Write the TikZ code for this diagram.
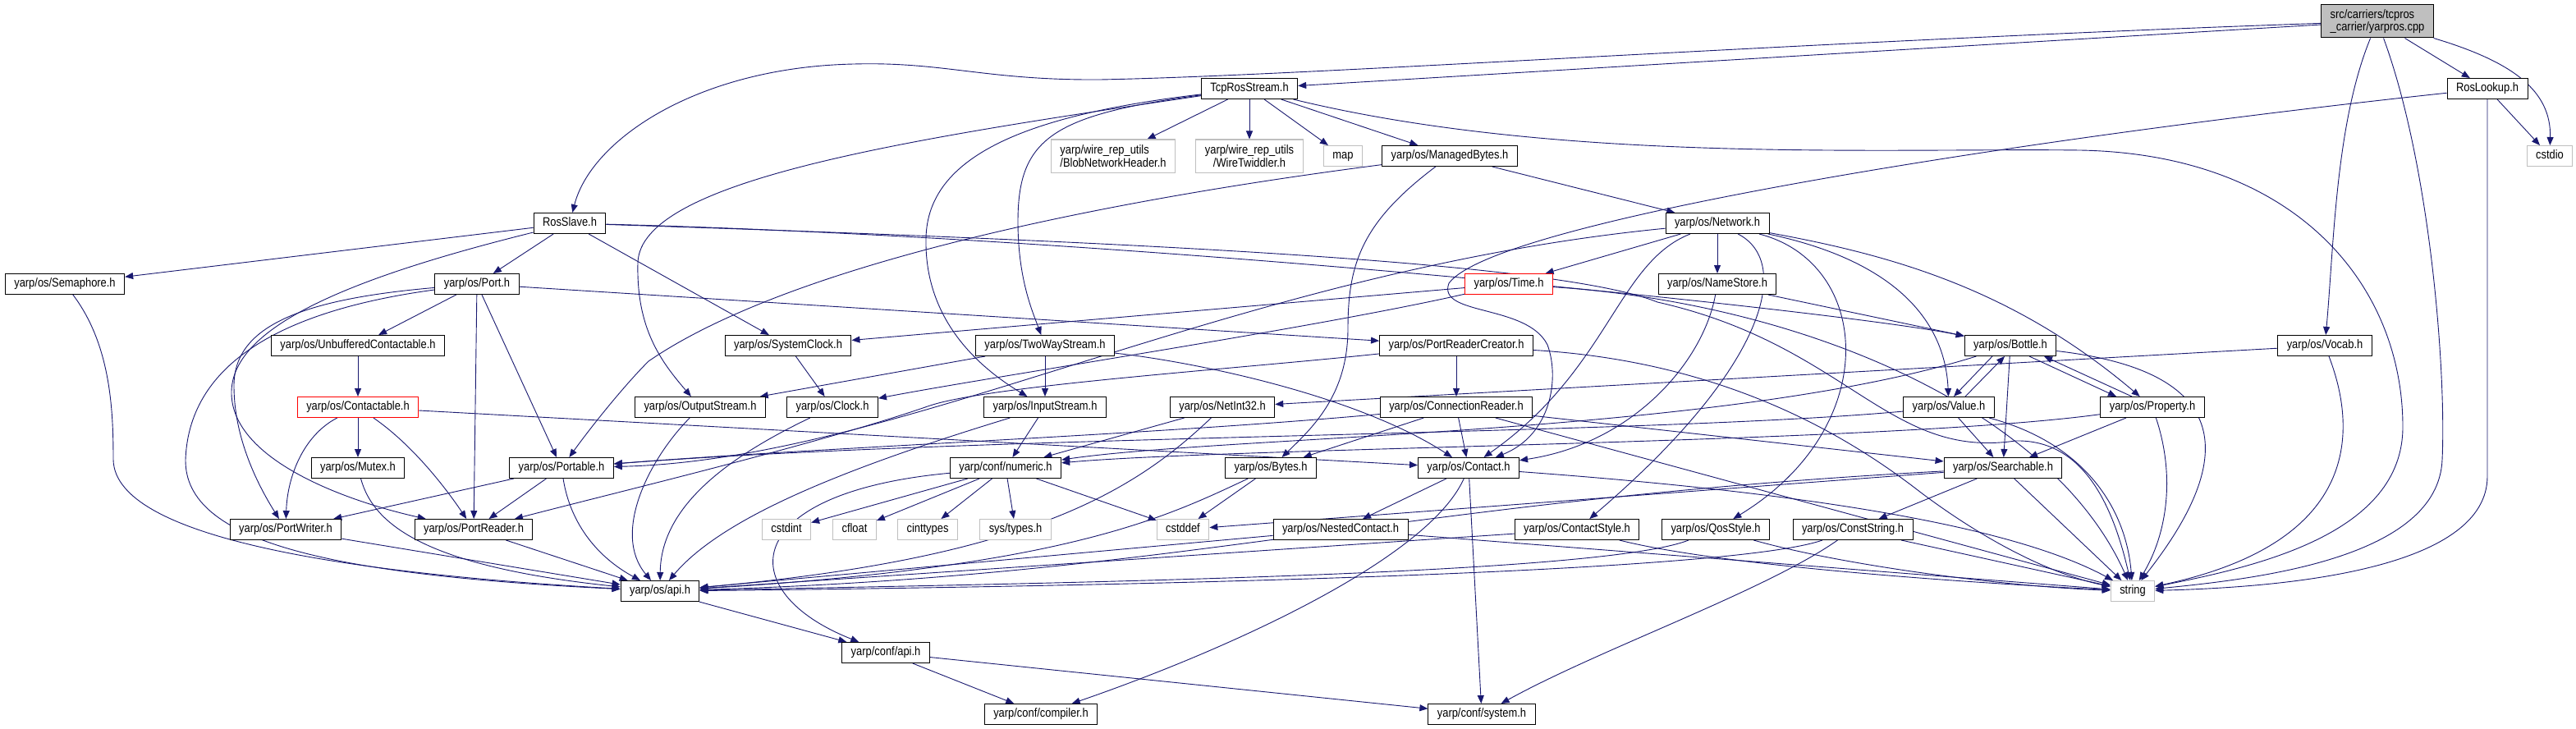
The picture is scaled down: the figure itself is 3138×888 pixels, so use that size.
\documentclass[tikz,border=0pt]{standalone}
\usepackage{fontspec}
\setmainfont{Liberation Sans}[FakeStretch=0.86]
\usetikzlibrary{arrows.meta, backgrounds}
\definecolor{incblue}{RGB}{25,25,112}
\definecolor{sysgray}{RGB}{191,191,191}

\begin{document}
\begin{tikzpicture}[x=1pt, y=-1pt,
    hbox/.style={rectangle, draw=black, fill=white, line width=1pt, inner xsep=11pt, inner ysep=0pt, font=\fontsize{15}{15.3}\selectfont},
    hdr/.style={hbox, minimum height=25pt, text height=11pt, text depth=3.5pt},
    sys/.style={hdr, draw=sysgray},
    trunc/.style={hdr, draw=red},
    inc/.style={draw=incblue, line width=0.9pt, -{Triangle[length=10pt, width=8pt]}}]
    \useasboundingbox (0,0) rectangle (3138,888);
    % top rows
    \node [hbox, fill=sysgray, minimum height=40pt, align=left] (root) at (2896,26) {src/carriers/tcpros\\\_carrier/yarpros.cpp};
    \node [hdr] (tcp) at (1522,108) {TcpRosStream.h};
    \node [hdr] (lookup) at (3030,108) {RosLookup.h};
    \node [hbox, draw=sysgray, minimum height=40pt, align=left] (blob) at (1356,190) {yarp/wire\_rep\_utils\\/BlobNetworkHeader.h};
    \node [hbox, draw=sysgray, minimum height=40pt, align=center] (twiddler) at (1522,190) {yarp/wire\_rep\_utils\\/WireTwiddler.h};
    \node [sys] (map) at (1636,190) {map};
    \node [hdr] (managed) at (1766,190) {yarp/os/ManagedBytes.h};
    \node [sys] (cstdio) at (3106,190) {cstdio};
    \node [hdr] (slave) at (694,272) {RosSlave.h};
    \node [hdr] (network) at (2092,272) {yarp/os/Network.h};
    \node [hdr] (sema) at (79,346) {yarp/os/Semaphore.h};
    \node [hdr] (port) at (581,346) {yarp/os/Port.h};
    \node [trunc] (time) at (1838,346) {yarp/os/Time.h};
    \node [hdr] (namestore) at (2092,346) {yarp/os/NameStore.h};
    % middle rows
    \node [hdr] (unbuf) at (436,421) {yarp/os/UnbufferedContactable.h};
    \node [hdr] (sysclock) at (960,421) {yarp/os/SystemClock.h};
    \node [hdr] (twoway) at (1273,421) {yarp/os/TwoWayStream.h};
    \node [hdr] (prc) at (1774,421) {yarp/os/PortReaderCreator.h};
    \node [hdr] (bottle) at (2449,421) {yarp/os/Bottle.h};
    \node [hdr] (vocab) at (2832,421) {yarp/os/Vocab.h};
    \node [trunc] (contactable) at (436,496) {yarp/os/Contactable.h};
    \node [hdr] (outstream) at (853,496) {yarp/os/OutputStream.h};
    \node [hdr] (clock) at (1014,496) {yarp/os/Clock.h};
    \node [hdr] (instream) at (1273,496) {yarp/os/InputStream.h};
    \node [hdr] (netint) at (1489,496) {yarp/os/NetInt32.h};
    \node [hdr] (connreader) at (1774,496) {yarp/os/ConnectionReader.h};
    \node [hdr] (value) at (2374,496) {yarp/os/Value.h};
    \node [hdr] (property) at (2622,496) {yarp/os/Property.h};
    \node [hdr] (mutex) at (436,570) {yarp/os/Mutex.h};
    \node [hdr] (portable) at (684,570) {yarp/os/Portable.h};
    \node [hdr] (numeric) at (1225,570) {yarp/conf/numeric.h};
    \node [hdr] (bytes) at (1548,570) {yarp/os/Bytes.h};
    \node [hdr] (contact) at (1789,570) {yarp/os/Contact.h};
    \node [hdr] (searchable) at (2440,570) {yarp/os/Searchable.h};
    % lower rows
    \node [hdr] (pwriter) at (348,645) {yarp/os/PortWriter.h};
    \node [hdr] (preader) at (577,645) {yarp/os/PortReader.h};
    \node [sys] (cstdint) at (958,645) {cstdint};
    \node [sys] (cfloat) at (1041,645) {cfloat};
    \node [sys] (cinttypes) at (1130,645) {cinttypes};
    \node [sys] (systypes) at (1237,645) {sys/types.h};
    \node [sys] (cstddef) at (1441,645) {cstddef};
    \node [hdr] (nested) at (1633,645) {yarp/os/NestedContact.h};
    \node [hdr] (cstyle) at (1921,645) {yarp/os/ContactStyle.h};
    \node [hdr] (qos) at (2090,645) {yarp/os/QosStyle.h};
    \node [hdr] (cstring) at (2257,645) {yarp/os/ConstString.h};
    \node [hdr] (osapi) at (804,720) {yarp/os/api.h};
    \node [sys] (string) at (2598,720) {string};
    \node [hdr] (confapi) at (1079,795) {yarp/conf/api.h};
    \node [hdr] (compiler) at (1268,870) {yarp/conf/compiler.h};
    \node [hdr] (system) at (1805,870) {yarp/conf/system.h};

    \begin{pgfonlayer}{background}
    \fill [white] (0,0) rectangle (3138,888);
    % yarpros.cpp
    \path [inc] (root) -- (tcp);
    \path [inc] (root) .. controls (2200,50) and (1600,92) .. (1340,97) .. controls (1200,98) and (1150,75) .. (1040,78) .. controls (850,82) and (720,170) .. (slave);
    \path [inc] (root) -- (lookup);
    \path [inc] (root) .. controls (3060,75) and (3108,110) .. (cstdio);
    \path [inc] (root) .. controls (2845,150) and (2843,300) .. (vocab);
    \path [inc] (root) .. controls (2960,200) and (2980,450) .. (2975,560) .. controls (2970,680) and (2750,705) .. (string);
    % TcpRosStream.h
    \path [inc] (tcp) -- (blob);
    \path [inc] (tcp) -- (twiddler);
    \path [inc] (tcp) -- (map);
    \path [inc] (tcp) -- (managed);
    \path [inc] (tcp) .. controls (1900,200) and (2300,180) .. (2534,183) .. controls (2800,188) and (2927,350) .. (2927,520) .. controls (2927,650) and (2750,690) .. (string);
    \path [inc] (tcp) .. controls (1280,140) and (1240,170) .. (1240,270) .. controls (1240,340) and (1258,380) .. (twoway);
    \path [inc] (tcp) .. controls (1250,140) and (1130,190) .. (1128,290) .. controls (1126,380) and (1180,440) .. (instream);
    \path [inc] (tcp) .. controls (1100,170) and (780,220) .. (777,320) .. controls (775,400) and (805,440) .. (outstream);
    % RosLookup.h
    \path [inc] (lookup) -- (cstdio);
    \path [inc] (lookup) .. controls (3030,300) and (3030,450) .. (3030,580) .. controls (3030,690) and (2800,715) .. (string);
    \path [inc] (lookup) .. controls (2450,170) and (1820,270) .. (1765,345) .. controls (1750,385) and (1860,370) .. (1885,420) .. controls (1900,460) and (1890,530) .. (contact);
    % ManagedBytes.h
    \path [inc] (managed) -- (network);
    \path [inc] (managed) .. controls (1660,270) and (1642,320) .. (1642,400) .. controls (1642,480) and (1600,520) .. (bytes);
    \path [inc] (managed) .. controls (1300,250) and (950,330) .. (790,440) .. controls (760,470) and (720,520) .. (portable);
    % RosSlave.h
    \path [inc] (slave) -- (sema);
    \path [inc] (slave) -- (port);
    \path [inc] (slave) -- (sysclock);
    \path [inc] (slave) .. controls (1400,290) and (2250,380) .. (bottle);
    \path [inc] (slave) .. controls (1400,295) and (1900,320) .. (2019,368) .. controls (2250,420) and (2300,560) .. (2455,537) .. controls (2540,535) and (2575,620) .. (string);
    \path [inc] (slave) .. controls (420,340) and (280,400) .. (282,480) .. controls (284,560) and (420,610) .. (preader);
    % Port.h
    \path [inc] (port) -- (unbuf);
    \path [inc] (port) -- (prc);
    \path [inc] (port) -- (portable);
    \path [inc] (port) -- (preader);
    \path [inc] (port) .. controls (360,365) and (285,400) .. (285,470) .. controls (285,540) and (320,600) .. (pwriter);
    \path [inc] (port) .. controls (330,380) and (230,450) .. (226,560) .. controls (225,660) and (400,700) .. (osapi);
    % Contactable.h
    \path [inc] (unbuf) -- (contactable);
    \path [inc] (contactable) .. controls (370,530) and (350,580) .. (pwriter);
    \path [inc] (contactable) -- (mutex);
    \path [inc] (contactable) .. controls (500,540) and (540,590) .. (preader);
    \path [inc] (contactable) -- (contact);
    % left cluster
    \path [inc] (sema) .. controls (135,420) and (138,500) .. (138,560) .. controls (140,660) and (450,700) .. (osapi);
    \path [inc] (mutex) .. controls (455,640) and (520,690) .. (osapi);
    \path [inc] (portable) -- (pwriter);
    \path [inc] (portable) -- (preader);
    \path [inc] (portable) .. controls (695,640) and (730,680) .. (osapi);
    \path [inc] (pwriter) -- (osapi);
    \path [inc] (preader) -- (osapi);
    % clocks and streams
    \path [inc] (sysclock) -- (clock);
    \path [inc] (clock) .. controls (880,560) and (805,620) .. (osapi);
    \path [inc] (outstream) .. controls (790,560) and (745,650) .. (osapi);
    \path [inc] (twoway) -- (instream);
    \path [inc] (twoway) -- (outstream);
    \path [inc] (twoway) .. controls (1450,440) and (1650,480) .. (contact);
    \path [inc] (instream) -- (numeric);
    \path [inc] (instream) .. controls (1030,570) and (880,630) .. (osapi);
    \path [inc] (netint) -- (numeric);
    \path [inc] (netint) .. controls (1380,600) and (1250,680) .. (osapi);
    \path [inc] (vocab) -- (netint);
    \path [inc] (vocab) .. controls (2870,520) and (2880,660) .. (string);
    % Network.h
    \path [inc] (network) -- (time);
    \path [inc] (network) -- (namestore);
    \path [inc] (network) .. controls (1970,320) and (1960,450) .. (contact);
    \path [inc] (network) .. controls (2185,320) and (2150,450) .. (cstyle);
    \path [inc] (network) .. controls (2280,320) and (2295,520) .. (qos);
    \path [inc] (network) .. controls (2320,320) and (2370,400) .. (value);
    \path [inc] (network) .. controls (2300,310) and (2450,350) .. (property);
    \path [inc] (network) .. controls (1500,330) and (1100,560) .. (portable);
    % Time.h, NameStore.h, PortReaderCreator.h
    \path [inc] (time) -- (sysclock);
    \path [inc] (time) .. controls (1600,400) and (1200,460) .. (clock);
    \path [inc] (time) .. controls (2200,370) and (2500,500) .. (string);
    \path [inc] (namestore) .. controls (2075,440) and (1990,540) .. (contact);
    \path [inc] (namestore) -- (bottle);
    \path [inc] (prc) -- (connreader);
    \path [inc] (prc) .. controls (1500,450) and (1200,470) .. (1130,495) .. controls (1000,540) and (750,600) .. (preader);
    \path [inc] (prc) .. controls (2100,440) and (2250,530) .. (2340,600) .. controls (2420,660) and (2500,700) .. (string);
    % ConnectionReader.h
    \path [inc] (connreader) -- (contact);
    \path [inc] (connreader) -- (bytes);
    \path [inc] (connreader) .. controls (1400,530) and (1000,545) .. (portable);
    \path [inc] (connreader) -- (searchable);
    \path [inc] (connreader) -- (string);
    % Bottle.h, Value.h, Property.h
    \path [inc] ([xshift=-22pt]bottle.south) -- ([xshift=6pt]value.north);
    \path [inc] ([xshift=20pt]value.north) -- ([xshift=-7pt]bottle.south);
    \path [inc] ([xshift=23pt]bottle.south) -- ([xshift=-44pt]property.north);
    \path [inc] ([xshift=-25pt]property.north) -- ([xshift=41pt]bottle.south);
    \path [inc] (bottle) -- (searchable);
    \path [inc] (bottle) .. controls (2700,450) and (2740,540) .. (string);
    \path [inc] (bottle) .. controls (2100,530) and (1500,530) .. (numeric);
    \path [inc] (value) -- (searchable);
    \path [inc] (value) .. controls (2540,540) and (2590,620) .. (string);
    \path [inc] (value) .. controls (2000,530) and (1200,530) .. (portable);
    \path [inc] (property) -- (searchable);
    \path [inc] (property) .. controls (2650,580) and (2640,650) .. (string);
    \path [inc] (property) .. controls (2300,540) and (1500,545) .. (numeric);
    % Searchable.h, Contact.h
    \path [inc] (searchable) -- (cstring);
    \path [inc] (searchable) -- (string);
    \path [inc] (searchable) -- (cstddef);
    \path [inc] (searchable) .. controls (1700,610) and (1450,700) .. (osapi);
    \path [inc] (contact) -- (nested);
    \path [inc] (contact) -- (system);
    \path [inc] (contact) .. controls (1740,680) and (1500,790) .. (compiler);
    \path [inc] (contact) .. controls (2200,600) and (2450,640) .. (string);
    % bottom rows
    \path [inc] (nested) -- (osapi);
    \path [inc] (nested) -- (string);
    \path [inc] (cstyle) -- (osapi);
    \path [inc] (cstyle) .. controls (2100,690) and (2400,710) .. (string);
    \path [inc] (qos) .. controls (1950,700) and (1300,710) .. (osapi);
    \path [inc] (qos) .. controls (2250,690) and (2450,715) .. (string);
    \path [inc] (cstring) .. controls (2150,720) and (1950,790) .. (system);
    \path [inc] (cstring) -- (string);
    \path [inc] (cstring) .. controls (2100,700) and (1300,715) .. (osapi);
    \path [inc] (bytes) -- (cstddef);
    \path [inc] (bytes) .. controls (1420,630) and (1300,690) .. (osapi);
    \path [inc] (numeric) -- (cstdint);
    \path [inc] (numeric) -- (cfloat);
    \path [inc] (numeric) -- (cinttypes);
    \path [inc] (numeric) -- (systypes);
    \path [inc] (numeric) -- (cstddef);
    \path [inc] (numeric) .. controls (900,600) and (890,720) .. (confapi);
    \path [inc] (osapi) -- (confapi);
    \path [inc] (confapi) -- (compiler);
    \path [inc] (confapi) -- (system);
    \end{pgfonlayer}
\end{tikzpicture}
\end{document}
